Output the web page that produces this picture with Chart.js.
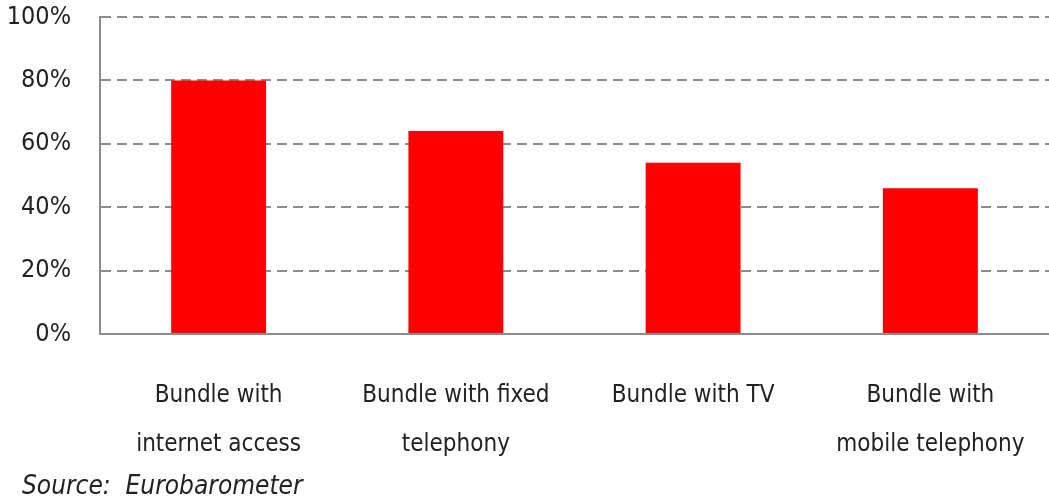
<!DOCTYPE html>
<html>
<head>
<meta charset="utf-8">
<script src="https://cdn.jsdelivr.net/npm/chart.js@4/dist/chart.umd.min.js"></script>
<style>
  body { margin: 0; background: #fff; }
</style>
</head>
<body>
<canvas id="chart" width="1049" height="501"></canvas>
<script>
// categories and values
const categories = [
    ['Bundle with', 'internet access'],
    ['Bundle with fixed', 'telephony'],
    ['Bundle with TV'],
    ['Bundle with', 'mobile telephony']
];
const shares = [80, 64, 54, 46];
const yTicks = [0, 20, 40, 60, 80, 100];

const fontFamily = '"DejaVu Sans Condensed", "Liberation Sans", sans-serif';
const gridGray = '#8c8c8c';

// the source note sits a little in from the left edge
const sourceIndent = {
    id: 'sourceIndent',
    afterLayout(chart) {
        if (chart.titleBlock) chart.titleBlock.left = 22;
    }
};

new Chart(document.getElementById('chart'), {
    type: 'bar',
    data: {
        labels: categories,
        datasets: [{
            data: shares,
            backgroundColor: '#ff0000',
            borderWidth: 0,
            barPercentage: 0.4,
            categoryPercentage: 1.0
        }]
    },
    options: {
        responsive: false,
        animation: false,
        layout: { padding: { left: 4, top: 4, right: 0, bottom: 1 } },
        plugins: {
            legend: { display: false },
            tooltip: { enabled: false },
            title: {
                display: true,
                text: 'Source:  Eurobarometer',
                position: 'bottom',
                align: 'start',
                color: '#222',
                padding: { top: 5, bottom: 0 },
                font: { family: fontFamily, size: 26, style: 'italic', weight: 'normal', lineHeight: 1.0 }
            }
        },
        scales: {
            x: {
                grid: { display: false, drawTicks: false },
                border: { display: true, color: gridGray, width: 2 },
                afterFit: axis => {
                    axis.height = 135;
                    axis.paddingLeft = 0;
                    axis.paddingRight = 0;
                },
                ticks: {
                    color: '#222',
                    padding: 37,
                    maxRotation: 0,
                    autoSkip: false,
                    font: { family: fontFamily, size: 24, lineHeight: 2.04 }
                }
            },
            y: {
                min: 0,
                max: 100,
                afterBuildTicks: axis => { axis.ticks = yTicks.map(v => ({ value: v })); },
                afterFit: axis => {
                    axis.width = 96;
                    axis.paddingTop = 17;
                    axis.paddingBottom = 13;
                },
                grid: { color: gridGray, lineWidth: 2, drawTicks: false },
                border: { display: true, color: gridGray, width: 2, dash: [10, 6] },
                ticks: {
                    color: '#222',
                    padding: 29,
                    callback: v => v + '%',
                    font: { family: fontFamily, size: 25, lineHeight: 1.0 }
                }
            }
        }
    },
    plugins: [sourceIndent]
});
</script>
</body>
</html>
